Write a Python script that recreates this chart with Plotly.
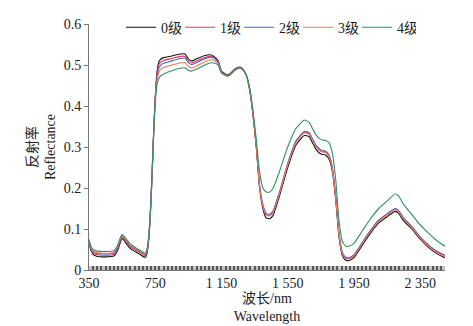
import plotly.graph_objects as go

wavelength = [350,360,375,400,450,500,520,540,550,560,580,600,650,680,690,700,710,720,730,740,750,760,770,780,800,850,900,930,950,970,1000,1050,1080,1100,1130,1150,1180,1200,1230,1260,1280,1300,1320,1340,1360,1380,1400,1420,1440,1460,1500,1550,1600,1650,1680,1700,1720,1750,1780,1800,1820,1840,1860,1880,1900,1920,1950,2000,2050,2100,2150,2200,2220,2250,2300,2350,2400,2450,2500]

grade0 = [0.065,0.05,0.038,0.033,0.032,0.034,0.045,0.068,0.077,0.073,0.062,0.052,0.04,0.032,0.031,0.04,0.07,0.13,0.22,0.33,0.42,0.48,0.505,0.513,0.518,0.522,0.527,0.527,0.515,0.51,0.515,0.523,0.525,0.522,0.51,0.485,0.477,0.478,0.49,0.495,0.49,0.475,0.44,0.38,0.3,0.2,0.15,0.127,0.125,0.132,0.18,0.25,0.305,0.328,0.325,0.31,0.295,0.283,0.28,0.27,0.24,0.17,0.08,0.035,0.024,0.023,0.03,0.06,0.09,0.115,0.13,0.143,0.138,0.12,0.1,0.075,0.055,0.04,0.03]

grade1 = [0.068,0.053,0.042,0.037,0.036,0.038,0.049,0.072,0.081,0.077,0.066,0.056,0.044,0.036,0.035,0.044,0.073,0.133,0.222,0.33,0.418,0.474,0.498,0.506,0.511,0.516,0.521,0.521,0.51,0.505,0.51,0.518,0.521,0.519,0.508,0.484,0.476,0.477,0.489,0.494,0.489,0.475,0.441,0.382,0.304,0.206,0.158,0.135,0.133,0.14,0.188,0.258,0.313,0.336,0.333,0.318,0.303,0.291,0.288,0.278,0.248,0.178,0.088,0.042,0.03,0.029,0.036,0.066,0.096,0.121,0.136,0.149,0.144,0.126,0.105,0.08,0.06,0.045,0.035]

grade2 = [0.07,0.055,0.044,0.04,0.039,0.041,0.052,0.075,0.083,0.079,0.069,0.059,0.047,0.039,0.038,0.047,0.076,0.135,0.224,0.33,0.415,0.468,0.49,0.498,0.504,0.51,0.516,0.517,0.506,0.501,0.506,0.515,0.519,0.518,0.507,0.483,0.475,0.476,0.488,0.494,0.489,0.475,0.442,0.383,0.305,0.208,0.16,0.138,0.136,0.143,0.19,0.26,0.315,0.338,0.335,0.32,0.305,0.293,0.29,0.28,0.25,0.18,0.09,0.043,0.031,0.03,0.037,0.067,0.097,0.122,0.137,0.15,0.145,0.127,0.106,0.081,0.061,0.046,0.036]

grade3 = [0.072,0.057,0.046,0.042,0.041,0.043,0.054,0.077,0.084,0.08,0.07,0.06,0.048,0.04,0.039,0.048,0.077,0.136,0.225,0.33,0.413,0.46,0.48,0.488,0.494,0.5,0.505,0.506,0.497,0.493,0.498,0.508,0.512,0.512,0.503,0.481,0.474,0.475,0.487,0.493,0.488,0.475,0.441,0.382,0.304,0.205,0.156,0.134,0.132,0.139,0.186,0.256,0.311,0.334,0.331,0.316,0.301,0.289,0.286,0.276,0.246,0.176,0.086,0.04,0.028,0.027,0.034,0.064,0.094,0.119,0.134,0.147,0.142,0.124,0.103,0.078,0.058,0.043,0.033]

grade4 = [0.075,0.06,0.05,0.046,0.045,0.047,0.058,0.08,0.087,0.083,0.073,0.063,0.05,0.042,0.041,0.05,0.08,0.14,0.23,0.33,0.41,0.45,0.465,0.472,0.478,0.486,0.492,0.493,0.487,0.485,0.49,0.5,0.505,0.505,0.5,0.48,0.473,0.475,0.487,0.492,0.488,0.475,0.445,0.39,0.32,0.24,0.2,0.19,0.19,0.198,0.24,0.3,0.345,0.366,0.36,0.345,0.33,0.318,0.316,0.31,0.285,0.22,0.12,0.07,0.058,0.058,0.065,0.095,0.125,0.15,0.168,0.186,0.18,0.16,0.135,0.11,0.09,0.072,0.058]

series_names = ["0级", "1级", "2级", "3级", "4级"]
series_values = [grade0, grade1, grade2, grade3, grade4]
colors = ["#111111", "#e8395a", "#4a62c8", "#f07a50", "#2f8f6a"]

x_tickvals = [350, 750, 1150, 1550, 1950, 2350]
x_ticktext = ["350", "750", "1 150", "1 550", "1 950", "2 350"]
y_tickvals = [0, 0.1, 0.2, 0.3, 0.4, 0.5, 0.6]
y_ticktext = ["0", "0.1", "0.2", "0.3", "0.4", "0.5", "0.6"]

FONT = "Liberation Serif, Noto Sans CJK SC"

fig = go.Figure()
for name, vals, c in zip(series_names, series_values, colors):
    fig.add_trace(go.Scatter(x=wavelength, y=vals, mode="lines", name=name,
                             line=dict(color=c, width=1.1, shape="spline", smoothing=0.5)))

# gray band under the bottom axis ticks
fig.add_shape(type="rect", xref="paper", yref="paper", x0=0, x1=1, y0=0, y1=0.016,
              fillcolor="#c4c4c4", line_width=0, layer="below")

fig.update_layout(
    width=465, height=318,
    margin=dict(l=81, r=28, t=4, b=56),
    paper_bgcolor="white", plot_bgcolor="white",
    font=dict(family=FONT, size=14, color="#222222"),
    showlegend=True,
    legend=dict(orientation="h", x=0.09, y=0.985, xanchor="left", yanchor="middle",
                font=dict(size=14), bgcolor="rgba(0,0,0,0)", itemwidth=30,
                entrywidth=14, entrywidthmode="pixels",
                tracegroupgap=0),
    xaxis=dict(range=[350, 2500], tickvals=x_tickvals, ticktext=x_ticktext,
               automargin=False,
               showgrid=False, zeroline=False, showline=True, linecolor="#777777",
               linewidth=1, ticks="inside", ticklen=4, tickwidth=2, tickcolor="#555555",
               minor=dict(dtick=25, tick0=350, ticks="inside", ticklen=4, tickwidth=2,
                          tickcolor="#555555", showgrid=False),
               tickfont=dict(size=14),
               title=dict(text="波长/nm<br>Wavelength", font=dict(size=14), standoff=0)),
    yaxis=dict(range=[0, 0.6], tickvals=y_tickvals, ticktext=y_ticktext,
               automargin=False,
               showgrid=False, zeroline=False, showline=True, linecolor="#777777",
               linewidth=1, ticks="outside", ticklen=4, tickcolor="#777777",
               tickfont=dict(size=14),
               title=dict(text="反射率<br>Reflectance", font=dict(size=14), standoff=4)),
)

fig.write_html("out.html")
